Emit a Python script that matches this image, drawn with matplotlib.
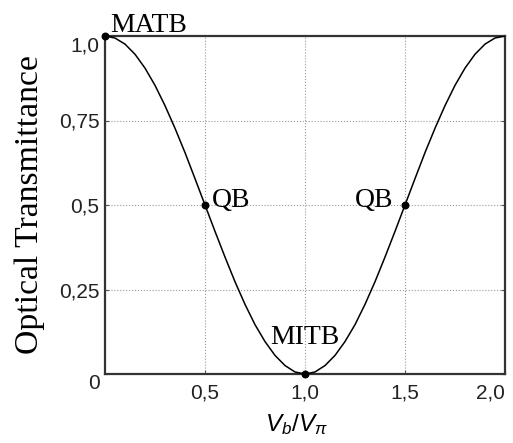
import matplotlib
matplotlib.use("Agg")
import matplotlib.pyplot as plt
from matplotlib.transforms import ScaledTranslation

# Data
vb = [0.00, 0.05, 0.10, 0.15, 0.20, 0.25, 0.30, 0.35, 0.40, 0.45, 0.50,
      0.55, 0.60, 0.65, 0.70, 0.75, 0.80, 0.85, 0.90, 0.95, 1.00,
      1.05, 1.10, 1.15, 1.20, 1.25, 1.30, 1.35, 1.40, 1.45, 1.50,
      1.55, 1.60, 1.65, 1.70, 1.75, 1.80, 1.85, 1.90, 1.95, 2.00]
trans = [1.00, 0.994, 0.976, 0.946, 0.905, 0.854, 0.794, 0.727, 0.655, 0.578, 0.50,
         0.422, 0.346, 0.273, 0.206, 0.146, 0.096, 0.055, 0.025, 0.006, 0.00,
         0.006, 0.025, 0.055, 0.096, 0.146, 0.206, 0.273, 0.346, 0.422, 0.50,
         0.578, 0.655, 0.727, 0.794, 0.854, 0.905, 0.946, 0.976, 0.994, 1.00]
pt_x = [0.0, 0.5, 1.0, 1.5]
pt_y = [1.0, 0.5, 0.0, 0.5]
pt_names = ["MATB", "QB", "MITB", "QB"]
xticks = [0.5, 1.0, 1.5, 2.0]
xticklabels = ["0,5", "1,0", "1,5", "2,0"]
yticks = [0.0, 0.25, 0.5, 0.75, 1.0]
yticklabels = ["0", "0,25", "0,5", "0,75", "1,0"]

plt.rcParams['mathtext.fontset'] = 'custom'
plt.rcParams['mathtext.it'] = 'Liberation Sans:italic'
plt.rcParams['mathtext.rm'] = 'Liberation Sans'

W, H = 513, 443
fig = plt.figure(figsize=(W/100, H/100), dpi=100)
ax = fig.add_axes([105/W, 1-374/H, 400/W, 338/H])

ax.plot(vb, trans, color='black', lw=1.1, zorder=3)
ax.scatter(pt_x, pt_y, s=22, color='black', zorder=4, clip_on=False)

ax.set_xlim(0, 2)
ax.set_ylim(0, 1)
ax.set_xticks(xticks)
ax.set_xticklabels(xticklabels, family='Liberation Sans', fontsize=15, color='#222222')
ax.set_yticks(yticks)
ax.set_yticklabels(yticklabels, family='Liberation Sans', fontsize=15, color='#222222')
for lab in ax.get_yticklabels():
    if lab.get_text() in ("0", "1,0"):
        lab.set_va('top')
last = ax.get_xticklabels()[-1]
last.set_ha('right')
last.set_transform(last.get_transform() + ScaledTranslation(7/100, 0, fig.dpi_scale_trans))

ax.grid(True, linestyle=':', color='#999999', lw=0.8)
ax.tick_params(direction='in', length=3, right=True, top=False, color='#555555')
ax.tick_params(axis='x', pad=7)
ax.tick_params(axis='y', pad=4)
for s in ax.spines.values():
    s.set_color('#333333')
    s.set_linewidth(1.6)

serif = 'Liberation Serif'
ax.text(0.025, 1.012, pt_names[0], family=serif, fontsize=20, ha='left', va='baseline')
ax.text(0.535, 0.494, pt_names[1], family=serif, fontsize=20, ha='left', va='baseline')
ax.text(1.0, 0.089, pt_names[2], family=serif, fontsize=20, ha='center', va='baseline')
ax.text(1.44, 0.494, pt_names[3], family=serif, fontsize=20, ha='right', va='baseline')

fig.text(30/W, 1-205/H, "Optical Transmittance", family=serif, fontsize=24.3,
         rotation=90, ha='center', va='center')
fig.text(296/W, 1-425/H, r"$V_b/V_\pi$", fontsize=17.5, ha='center', va='center')

fig.savefig("out.png", dpi=100)
